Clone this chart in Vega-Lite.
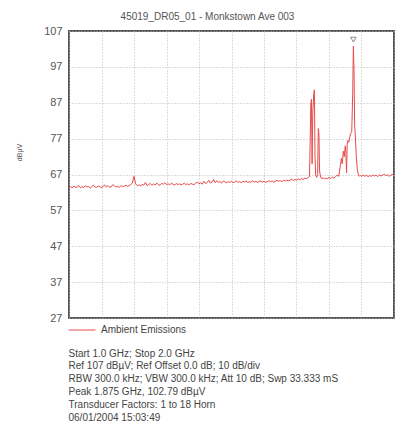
{
  "$schema": "https://vega.github.io/schema/vega-lite/v6.json",
  "width": 325,
  "height": 287,
  "autosize": {"type": "none"},
  "padding": {"left": 69, "top": 31, "right": 23, "bottom": 111},
  "background": "white",
  "title": {"text": "45019_DR05_01 - Monkstown Ave 003", "fontSize": 10, "font": "Liberation Sans", "color": "#555", "fontWeight": "normal", "anchor": "middle", "dx": -24, "offset": 3},
  "config": {"view": {"stroke": "#555", "strokeWidth": 2}, "font": "Liberation Sans"},
  "datasets": {
    "trace": [
      {"freq":1.000,"level":63.2},{"freq":1.005,"level":63.6},{"freq":1.010,"level":63.3},{"freq":1.015,"level":63.8},{"freq":1.020,"level":63.4},
      {"freq":1.025,"level":63.5},{"freq":1.030,"level":63.9},{"freq":1.035,"level":63.3},{"freq":1.040,"level":63.6},{"freq":1.045,"level":63.4},
      {"freq":1.050,"level":63.9},{"freq":1.055,"level":63.5},{"freq":1.060,"level":63.7},{"freq":1.065,"level":63.2},{"freq":1.070,"level":63.6},
      {"freq":1.075,"level":64.0},{"freq":1.080,"level":63.5},{"freq":1.085,"level":63.4},{"freq":1.090,"level":63.8},{"freq":1.095,"level":63.6},
      {"freq":1.100,"level":63.3},{"freq":1.105,"level":63.7},{"freq":1.110,"level":64.1},{"freq":1.115,"level":63.5},{"freq":1.120,"level":63.9},
      {"freq":1.125,"level":63.4},{"freq":1.130,"level":63.6},{"freq":1.135,"level":64.2},{"freq":1.140,"level":63.8},{"freq":1.145,"level":63.5},
      {"freq":1.150,"level":63.7},{"freq":1.155,"level":63.4},{"freq":1.160,"level":63.9},{"freq":1.165,"level":63.6},{"freq":1.170,"level":63.8},
      {"freq":1.175,"level":64.0},{"freq":1.180,"level":63.7},{"freq":1.185,"level":63.9},{"freq":1.190,"level":64.2},{"freq":1.195,"level":64.6},
      {"freq":1.200,"level":66.5},{"freq":1.205,"level":64.4},{"freq":1.210,"level":63.9},{"freq":1.215,"level":64.1},{"freq":1.220,"level":63.8},
      {"freq":1.225,"level":64.3},{"freq":1.230,"level":64.0},{"freq":1.235,"level":64.8},{"freq":1.240,"level":63.9},{"freq":1.245,"level":64.2},
      {"freq":1.250,"level":64.5},{"freq":1.255,"level":64.0},{"freq":1.260,"level":64.4},{"freq":1.265,"level":64.1},{"freq":1.270,"level":64.6},
      {"freq":1.275,"level":64.2},{"freq":1.280,"level":64.0},{"freq":1.285,"level":64.5},{"freq":1.290,"level":64.3},{"freq":1.295,"level":64.7},
      {"freq":1.300,"level":64.2},{"freq":1.305,"level":64.4},{"freq":1.310,"level":64.1},{"freq":1.315,"level":64.6},{"freq":1.320,"level":64.3},
      {"freq":1.325,"level":64.0},{"freq":1.330,"level":64.5},{"freq":1.335,"level":64.2},{"freq":1.340,"level":64.4},{"freq":1.345,"level":64.1},
      {"freq":1.350,"level":64.3},{"freq":1.355,"level":64.6},{"freq":1.360,"level":64.2},{"freq":1.365,"level":64.4},{"freq":1.370,"level":64.1},
      {"freq":1.375,"level":64.5},{"freq":1.380,"level":64.3},{"freq":1.385,"level":64.2},{"freq":1.390,"level":64.6},{"freq":1.395,"level":64.9},
      {"freq":1.400,"level":64.4},{"freq":1.405,"level":64.7},{"freq":1.410,"level":64.3},{"freq":1.415,"level":65.1},{"freq":1.420,"level":64.5},
      {"freq":1.425,"level":64.8},{"freq":1.430,"level":65.4},{"freq":1.435,"level":64.6},{"freq":1.440,"level":64.9},{"freq":1.445,"level":65.6},
      {"freq":1.450,"level":64.7},{"freq":1.455,"level":65.3},{"freq":1.460,"level":64.8},{"freq":1.465,"level":65.0},{"freq":1.470,"level":64.6},
      {"freq":1.475,"level":65.2},{"freq":1.480,"level":64.9},{"freq":1.485,"level":64.7},{"freq":1.490,"level":65.0},{"freq":1.495,"level":64.8},
      {"freq":1.500,"level":65.1},{"freq":1.505,"level":64.7},{"freq":1.510,"level":64.9},{"freq":1.515,"level":65.2},{"freq":1.520,"level":64.8},
      {"freq":1.525,"level":65.0},{"freq":1.530,"level":64.7},{"freq":1.535,"level":65.1},{"freq":1.540,"level":64.9},{"freq":1.545,"level":65.2},
      {"freq":1.550,"level":64.8},{"freq":1.555,"level":65.0},{"freq":1.560,"level":64.8},{"freq":1.565,"level":65.3},{"freq":1.570,"level":64.9},
      {"freq":1.575,"level":65.1},{"freq":1.580,"level":64.8},{"freq":1.585,"level":65.0},{"freq":1.590,"level":65.2},{"freq":1.595,"level":64.9},
      {"freq":1.600,"level":65.1},{"freq":1.605,"level":64.8},{"freq":1.610,"level":65.0},{"freq":1.615,"level":65.3},{"freq":1.620,"level":65.0},
      {"freq":1.625,"level":65.2},{"freq":1.630,"level":64.9},{"freq":1.635,"level":65.1},{"freq":1.640,"level":65.4},{"freq":1.645,"level":65.1},
      {"freq":1.650,"level":65.3},{"freq":1.655,"level":65.0},{"freq":1.660,"level":65.4},{"freq":1.665,"level":65.2},{"freq":1.670,"level":65.5},
      {"freq":1.675,"level":65.2},{"freq":1.680,"level":65.4},{"freq":1.685,"level":65.7},{"freq":1.690,"level":65.3},{"freq":1.695,"level":65.6},
      {"freq":1.700,"level":65.4},{"freq":1.705,"level":65.8},{"freq":1.710,"level":65.5},{"freq":1.715,"level":65.9},{"freq":1.720,"level":65.6},
      {"freq":1.725,"level":66.0},{"freq":1.730,"level":65.8},{"freq":1.735,"level":66.1},{"freq":1.740,"level":66.4},
      {"freq":1.742,"level":76.0},{"freq":1.744,"level":86.5},{"freq":1.746,"level":88.0},{"freq":1.748,"level":70.0},{"freq":1.750,"level":84.0},
      {"freq":1.753,"level":89.5},{"freq":1.755,"level":90.6},{"freq":1.757,"level":72.0},{"freq":1.759,"level":66.8},{"freq":1.762,"level":66.2},
      {"freq":1.765,"level":67.0},{"freq":1.767,"level":79.8},{"freq":1.769,"level":78.5},{"freq":1.771,"level":68.0},{"freq":1.774,"level":66.3},
      {"freq":1.778,"level":65.8},{"freq":1.782,"level":66.1},{"freq":1.786,"level":65.7},{"freq":1.790,"level":66.0},{"freq":1.795,"level":65.8},
      {"freq":1.800,"level":66.2},{"freq":1.805,"level":65.9},{"freq":1.810,"level":66.3},{"freq":1.815,"level":66.0},{"freq":1.820,"level":66.4},
      {"freq":1.825,"level":66.8},{"freq":1.830,"level":66.5},{"freq":1.835,"level":69.5},{"freq":1.838,"level":71.5},{"freq":1.841,"level":70.0},
      {"freq":1.844,"level":73.5},{"freq":1.847,"level":72.0},{"freq":1.850,"level":75.0},{"freq":1.852,"level":73.0},{"freq":1.854,"level":67.5},
      {"freq":1.856,"level":75.5},{"freq":1.858,"level":76.5},{"freq":1.861,"level":76.0},{"freq":1.864,"level":77.5},{"freq":1.867,"level":78.5},
      {"freq":1.870,"level":79.0},{"freq":1.873,"level":90.0},{"freq":1.875,"level":102.8},{"freq":1.877,"level":96.0},{"freq":1.879,"level":80.5},
      {"freq":1.881,"level":78.0},{"freq":1.884,"level":72.0},{"freq":1.887,"level":68.5},{"freq":1.890,"level":67.0},{"freq":1.893,"level":66.5},
      {"freq":1.896,"level":66.8},{"freq":1.900,"level":66.4},{"freq":1.905,"level":66.9},{"freq":1.910,"level":66.5},{"freq":1.915,"level":66.8},
      {"freq":1.920,"level":66.4},{"freq":1.925,"level":66.7},{"freq":1.930,"level":66.5},{"freq":1.935,"level":66.9},{"freq":1.940,"level":66.6},
      {"freq":1.945,"level":66.8},{"freq":1.950,"level":66.4},{"freq":1.955,"level":66.9},{"freq":1.960,"level":66.6},{"freq":1.965,"level":66.8},
      {"freq":1.970,"level":67.1},{"freq":1.975,"level":66.7},{"freq":1.980,"level":66.9},{"freq":1.985,"level":66.5},{"freq":1.990,"level":66.8},
      {"freq":1.995,"level":67.0},{"freq":2.000,"level":66.7}
    ],
    "marker": [{"freq": 1.875, "level": 104.6}]
  },
  "layer": [
    {
      "data": {"name": "trace"},
      "mark": {"type": "line", "strokeWidth": 1, "clip": true},
      "encoding": {
        "x": {
          "field": "freq", "type": "quantitative",
          "scale": {"domain": [1, 2], "nice": false, "zero": false},
          "axis": {
            "values": [1, 1.1, 1.2, 1.3, 1.4, 1.5, 1.6, 1.7, 1.8, 1.9, 2], "tickCount": 30,
            "labels": false, "ticks": false, "domain": false,
            "grid": true, "gridColor": "#bbbbbb", "gridDash": [1, 2], "gridWidth": 1,
            "title": ["Start 1.0 GHz; Stop 2.0 GHz", "Ref 107 dBµV; Ref Offset 0.0 dB; 10 dB/div", "RBW 300.0 kHz; VBW 300.0 kHz; Att 10 dB; Swp 33.333 mS", "Peak 1.875 GHz, 102.79 dBµV", "Transducer Factors: 1 to 18 Horn", "06/01/2004 15:03:49"],
            "titleFontSize": 10, "titleFontWeight": "normal", "titleColor": "#444",
            "titleAnchor": "start", "titleAlign": "left", "titleBaseline": "top",
            "titleX": -1, "titleY": 30, "titleLineHeight": 12.8
          }
        },
        "y": {
          "field": "level", "type": "quantitative",
          "scale": {"domain": [27, 107], "nice": false, "zero": false},
          "axis": {
            "values": [27, 37, 47, 57, 67, 77, 87, 97, 107], "tickCount": 30,
            "ticks": false, "domain": false, "labelPadding": 7, "labelOverlap": false,
            "labelFontSize": 11, "labelColor": "#555",
            "grid": true, "gridColor": "#bbbbbb", "gridDash": [1, 2], "gridWidth": 1,
            "title": "dBµV", "titleFontSize": 7, "titleFontWeight": "normal", "titleColor": "#555",
            "titleX": -47, "titleY": 121
          }
        },
        "color": {
          "datum": "Ambient Emissions", "type": "nominal",
          "scale": {"range": ["#e84a4a"]},
          "legend": {
            "title": null, "orient": "none", "legendX": -1, "legendY": 285,
            "symbolType": "stroke", "symbolSize": 729, "symbolStrokeWidth": 1,
            "labelFontSize": 10, "labelColor": "#444", "labelOffset": 5
          }
        }
      }
    },
    {
      "data": {"name": "marker"},
      "mark": {"type": "point", "shape": "triangle-down", "filled": false, "color": "#555", "size": 30, "strokeWidth": 1},
      "encoding": {
        "x": {"field": "freq", "type": "quantitative"},
        "y": {"field": "level", "type": "quantitative"}
      }
    }
  ]
}
